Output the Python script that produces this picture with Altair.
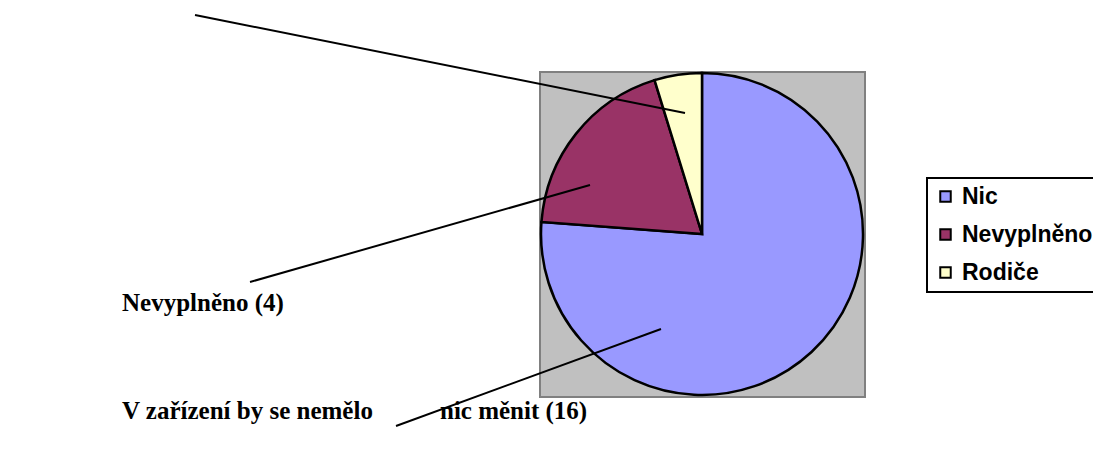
import altair as alt
import pandas as pd

# ---- chart values ----
categories = ["Nic", "Nevyplněno", "Rodiče"]
counts = [16, 4, 1]
slice_colors = ["#9999ff", "#993366", "#ffffcc"]

label_texts = ["Nevyplněno (4)", "V zařízení by se nemělo", "nic měnit (16)"]

# ---- layout (page pixel coordinates) ----
W, H = 1085, 444
label_x = [122, 122, 440]
label_y = [303, 411, 411]
leader_x1 = [195, 250, 396]
leader_y1 = [15, 282, 426]
leader_x2 = [685, 590, 661]
leader_y2 = [113, 185, 329]
plot_box = dict(x=540, x2=865, y=72, y2=397)
pie_cx, pie_cy, pie_r = 702, 234, 161

xs = alt.Scale(domain=[8, 8 + W], nice=False, zero=False)
ys = alt.Scale(domain=[8, 8 + H], nice=False, zero=False, reverse=True)

pie_df = pd.DataFrame({"cat": categories, "n": counts, "idx": list(range(len(categories)))})
lab_df = pd.DataFrame({"t": label_texts, "x": label_x, "y": label_y})
lead_df = pd.DataFrame({"x": leader_x1, "y": leader_y1, "x2": leader_x2, "y2": leader_y2})
box_df = pd.DataFrame([plot_box])

background = alt.Chart(box_df).mark_rect(
    fill="#c0c0c0", stroke="#808080", strokeWidth=2
).encode(
    x=alt.X("x:Q", scale=xs, axis=None),
    x2="x2:Q",
    y=alt.Y("y:Q", scale=ys, axis=None),
    y2="y2:Q",
)

pie = alt.Chart(pie_df).mark_arc(
    stroke="black", strokeWidth=2.5, radius=pie_r
).encode(
    theta=alt.Theta("n:Q", stack=True),
    order=alt.Order("idx:Q"),
    color=alt.Color(
        "cat:N",
        scale=alt.Scale(domain=categories, range=slice_colors),
        legend=alt.Legend(
            title=None,
            orient="none",
            legendX=927 - 8,
            legendY=178 - 8,
            symbolType="square",
            symbolSize=110,
            symbolStrokeColor="black",
            symbolStrokeWidth=2,
            symbolOpacity=1,
            labelFont="Liberation Sans",
            labelFontWeight="bold",
            labelFontSize=23,
            labelColor="black",
            labelOffset=5,
            rowPadding=14,
            padding=7,
            strokeColor="black",
            fillColor="white",
        ),
    ),
    x=alt.value(pie_cx - 8),
    y=alt.value(pie_cy - 8),
)

leaders = alt.Chart(lead_df).mark_rule(color="black", strokeWidth=2).encode(
    x=alt.X("x:Q", scale=xs, axis=None),
    y=alt.Y("y:Q", scale=ys, axis=None),
    x2="x2:Q",
    y2="y2:Q",
)

labels = alt.Chart(lab_df).mark_text(
    align="left", baseline="middle", font="Liberation Serif",
    fontWeight="bold", fontSize=25, color="black"
).encode(
    x=alt.X("x:Q", scale=xs, axis=None),
    y=alt.Y("y:Q", scale=ys, axis=None),
    text="t:N",
)

chart = alt.layer(background, pie, leaders, labels).properties(
    width=W, height=H, padding=0, autosize=alt.AutoSizeParams(type="none")
).configure_view(stroke=None).configure_legend(strokeWidth=2)

chart.save("out.html", embed_options={"renderer": "svg", "actions": False})
